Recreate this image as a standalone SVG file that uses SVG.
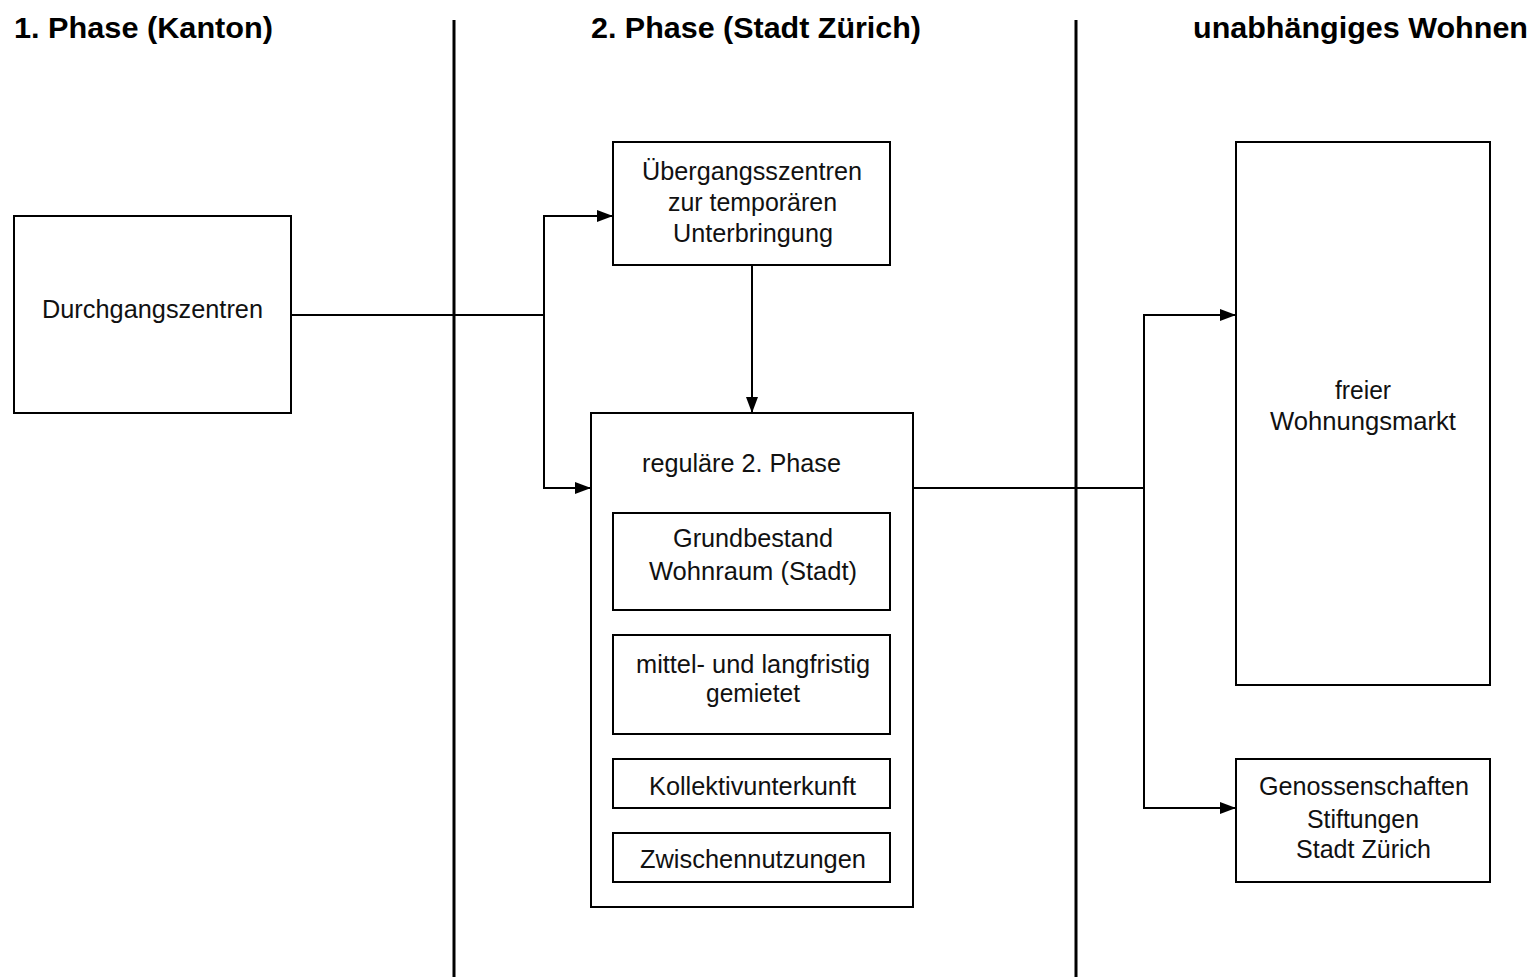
<svg xmlns="http://www.w3.org/2000/svg" width="1535" height="977" viewBox="0 0 1535 977">
<style>
.box{fill:#fff;stroke:#000;stroke-width:2}
.t{font-family:"Liberation Sans",Arial,sans-serif;font-size:26px;fill:#111;text-anchor:middle}
.h{font-family:"Liberation Sans",Arial,sans-serif;font-size:30px;font-weight:bold;fill:#000}
.c{fill:none;stroke:#000;stroke-width:2}
.sep{stroke:#000;stroke-width:3}
</style>
<defs>
<marker id="arr" markerWidth="16" markerHeight="12" refX="16" refY="6" orient="auto" markerUnits="userSpaceOnUse">
<path d="M0,0 L16,6 L0,12 Z" fill="#000"/>
</marker>
</defs>
<rect width="1535" height="977" fill="#fff"/>
<g id="headings">
<text class="h" x="14" y="38" textLength="259" lengthAdjust="spacingAndGlyphs">1. Phase (Kanton)</text>
<text class="h" x="591" y="38" textLength="330" lengthAdjust="spacingAndGlyphs">2. Phase (Stadt Zürich)</text>
<text class="h" x="1193" y="38" textLength="335" lengthAdjust="spacingAndGlyphs">unabhängiges Wohnen</text>
</g>
<g id="separators">
<line class="sep" x1="454" y1="20" x2="454" y2="977"/>
<line class="sep" x1="1076" y1="20" x2="1076" y2="977"/>
</g>
<g id="connectors">
<polyline class="c" points="291,315 544,315"/>
<polyline class="c" points="544,315 544,216 613,216" marker-end="url(#arr)"/>
<polyline class="c" points="544,315 544,488 591,488" marker-end="url(#arr)"/>
<polyline class="c" points="752,265 752,413" marker-end="url(#arr)"/>
<polyline class="c" points="913,488 1144,488"/>
<polyline class="c" points="1144,488 1144,315 1236,315" marker-end="url(#arr)"/>
<polyline class="c" points="1144,488 1144,808 1236,808" marker-end="url(#arr)"/>
</g>
<g id="durchgangszentren">
<rect class="box" x="14" y="216" width="277" height="197"/>
<text class="t" x="152.5" y="318" textLength="221" lengthAdjust="spacingAndGlyphs">Durchgangszentren</text>
</g>
<g id="uebergangszentren">
<rect class="box" x="613" y="142" width="277" height="123"/>
<text class="t" x="752" y="180" textLength="220" lengthAdjust="spacingAndGlyphs">Übergangsszentren</text>
<text class="t" x="752.5" y="211" textLength="169" lengthAdjust="spacingAndGlyphs">zur temporären</text>
<text class="t" x="753" y="242" textLength="160" lengthAdjust="spacingAndGlyphs">Unterbringung</text>
</g>
<g id="regulaere-phase">
<rect class="box" x="591" y="413" width="322" height="494"/>
<text class="t" x="741.5" y="472" textLength="199" lengthAdjust="spacingAndGlyphs">reguläre 2. Phase</text>
</g>
<g id="grundbestand">
<rect class="box" x="613" y="513" width="277" height="97"/>
<text class="t" x="753" y="547" textLength="160" lengthAdjust="spacingAndGlyphs">Grundbestand</text>
<text class="t" x="753" y="580" textLength="208" lengthAdjust="spacingAndGlyphs">Wohnraum (Stadt)</text>
</g>
<g id="mittel-langfristig">
<rect class="box" x="613" y="635" width="277" height="99"/>
<text class="t" x="753" y="673" textLength="234" lengthAdjust="spacingAndGlyphs">mittel- und langfristig</text>
<text class="t" x="753" y="702" textLength="94" lengthAdjust="spacingAndGlyphs">gemietet</text>
</g>
<g id="kollektivunterkunft">
<rect class="box" x="613" y="759" width="277" height="49"/>
<text class="t" x="752.5" y="795" textLength="207" lengthAdjust="spacingAndGlyphs">Kollektivunterkunft</text>
</g>
<g id="zwischennutzungen">
<rect class="box" x="613" y="833" width="277" height="49"/>
<text class="t" x="753" y="868" textLength="226" lengthAdjust="spacingAndGlyphs">Zwischennutzungen</text>
</g>
<g id="freier-wohnungsmarkt">
<rect class="box" x="1236" y="142" width="254" height="543"/>
<text class="t" x="1363" y="399" textLength="56" lengthAdjust="spacingAndGlyphs">freier</text>
<text class="t" x="1363" y="430" textLength="186" lengthAdjust="spacingAndGlyphs">Wohnungsmarkt</text>
</g>
<g id="genossenschaften">
<rect class="box" x="1236" y="759" width="254" height="123"/>
<text class="t" x="1364" y="795" textLength="210" lengthAdjust="spacingAndGlyphs">Genossenschaften</text>
<text class="t" x="1363" y="828" textLength="112" lengthAdjust="spacingAndGlyphs">Stiftungen</text>
<text class="t" x="1363.5" y="858" textLength="135" lengthAdjust="spacingAndGlyphs">Stadt Zürich</text>
</g>
</svg>
